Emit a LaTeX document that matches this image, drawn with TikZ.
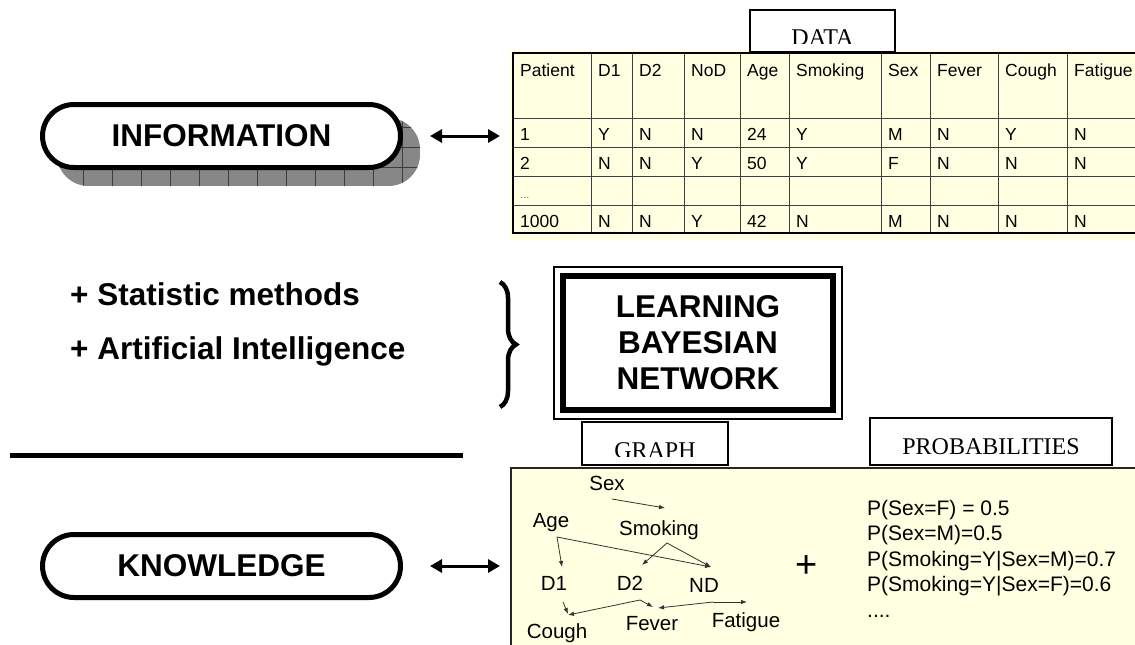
\documentclass[tikz,border=0pt]{standalone}
\usepackage{fontspec}
\setmainfont{Liberation Sans}
\newfontfamily\labelfont{Liberation Serif}
\usetikzlibrary{positioning,backgrounds,arrows.meta,decorations.pathreplacing}
\definecolor{paper}{RGB}{255,255,225}
\definecolor{shadowgray}{RGB}{135,135,135}
\definecolor{gridline}{RGB}{60,60,60}
\tikzset{
  pill/.style      = {shape=rectangle, rounded corners=31.5pt,
                      draw, line width=5pt, fill=white,
                      minimum width=358pt, minimum height=63pt, inner sep=0pt,
                      font=\bfseries\fontsize{31.5}{31.5}\selectfont},
  bullet/.style    = {anchor=base west, inner sep=0pt,
                      font=\bfseries\fontsize{31.5}{31.5}\selectfont},
  learnbox/.style  = {draw, line width=6pt, align=center,
                      minimum width=270pt, minimum height=134pt,
                      font=\bfseries\fontsize{31.5}{36}\selectfont},
  panel/.style     = {fill=paper, inner sep=0pt, anchor=north west},
  tag/.style       = {draw, line width=2pt, fill=white, inner sep=0pt},
  tagtext/.style   = {anchor=base, inner sep=0pt,
                      font=\labelfont\fontsize{24}{24}\selectfont},
  cell/.style      = {anchor=base west, inner sep=0pt,
                      font=\fontsize{17.5}{17.5}\selectfont},
  cellline/.style  = {draw=black!75, line width=1pt},
  tableborder/.style = {draw=black, line width=2.5pt},
  gnode/.style     = {anchor=base, inner sep=0pt,
                      font=\fontsize{20.5}{20.5}\selectfont},
  garrow/.style    = {-{Latex[length=6pt,width=4.5pt]}, line width=0.8pt, draw=black!80},
  dblarrow/.style  = {{Triangle[length=12pt,width=13pt]}-{Triangle[length=12pt,width=13pt]},
                      line width=3pt},
  prob/.style      = {anchor=base west, inner sep=0pt,
                      font=\fontsize{21}{21}\selectfont}
}
\begin{document}
\begin{tikzpicture}[x=1pt, y=-1pt]
    \useasboundingbox (0,0) rectangle (1135,645);

    % left column
    \node [pill] (info) at (221.5,136) {INFORMATION};
    \node [pill] (know) at (221.5,566) {KNOWLEDGE};
    \foreach \p/\ty in {info/102, know/532} {
        \begin{scope}[on background layer]
            \clip[rounded corners=31.5pt] ([shift={(17,16)}]\p.north west)
                rectangle ([shift={(17,16)}]\p.south east);
            \fill[shadowgray] ([shift={(17,16)}]\p.north west)
                rectangle ([shift={(17,16)}]\p.south east);
            \foreach \gx in {54,83,...,430}
                \draw[gridline, line width=0.6pt] (\gx,\ty) -- ++(0,90);
            \foreach \gy in {5,25,45,65,85}
                \draw[gridline, line width=0.6pt] (40,\ty+\gy) -- ++(400,0);
        \end{scope}
    }
    \node [bullet] (stat) at (70,305) {+ Statistic methods};
    \node [bullet] (ai)   at (70,359) {+ Artificial Intelligence};
    \coordinate (brace-top) at (500,282);
    \coordinate (brace-bot) at (500,407);
    \draw[decorate, decoration={brace, amplitude=16pt}, line width=4.5pt]
        (brace-top) -- (brace-bot);
    \coordinate (rule-l) at (10,455);
    \coordinate (rule-r) at (463,455);
    \draw[line width=5pt] (rule-l) -- (rule-r);

    % data table
    \node [panel, minimum width=630pt, minimum height=190pt] (datapanel) at (510,50) {};
    \foreach \x in {591,632,684,740,789,881,930,998,1067}
        \draw[cellline] (\x,53) -- (\x,233);
    \foreach \y in {118,147,176,205}
        \draw[cellline] (513,\y) -- (1140,\y);
    \draw[tableborder] (1140,53) -- (513,53) -- (513,233) -- (1140,233);
    \foreach \x/\t [count=\i] in {513/Patient,591/D1,632/D2,684/NoD,740/Age,
                                  789/Smoking,881/Sex,930/Fever,998/Cough,1067/Fatigue}
        \node [cell] (h\i) at (\x+7,76) {\t};
    \foreach \x/\a/\b/\d [count=\i] in {513/1/2/1000, 591/Y/N/N, 632/N/N/N, 684/N/Y/Y,
                                        740/24/50/42, 789/Y/Y/N, 881/M/F/M, 930/N/N/N,
                                        998/Y/N/N, 1067/N/N/N} {
        \node [cell] (ra\i) at (\x+7,140) {\a};
        \node [cell] (rb\i) at (\x+7,169) {\b};
        \node [cell] (rd\i) at (\x+7,227) {\d};
    }
    \node [cell, text=black!55, font=\fontsize{11}{11}\selectfont] (rc1) at (520,198) {...};
    \node [tag, minimum width=145pt, minimum height=42pt] (datatag) at (822.5,31) {};
    \begin{scope}
        \clip (datatag.north west) rectangle ([yshift=10pt]datatag.south east);
        \node [tagtext] (datatext) at ([yshift=8pt]datatag.south) {DATA};
    \end{scope}

    % learning box
    \node [learnbox] (learn) at (698,343) {LEARNING\\BAYESIAN\\NETWORK};
    \draw[line width=1.5pt] ([shift={(-6,-6)}]learn.north west)
        rectangle ([shift={(6,6)}]learn.south east);

    % graph and probabilities
    \node [panel, draw=black!85, line width=1.8pt, minimum width=640pt,
           minimum height=200pt] (graphpanel) at (510,467) {};
    \node [tag, minimum width=146pt, minimum height=43pt] (graphtag) at (655,443.5) {};
    \begin{scope}
        \clip (graphtag.north west) rectangle ([yshift=10pt]graphtag.south east);
        \node [tagtext] (graphtext) at ([yshift=8pt]graphtag.south) {GRAPH};
    \end{scope}
    \node [tag, minimum width=242pt, minimum height=47pt] (probtag) at (991,441.5) {};
    \node [tagtext] (probtext) at ([yshift=12pt]probtag.south) {PROBABILITIES};

    \node [gnode] (sex)     at (607,490) {Sex};
    \node [gnode] (age)     at (551,527) {Age};
    \node [gnode] (smoking) at (659,535) {Smoking};
    \node [gnode] (d1)      at (554,590) {D1};
    \node [gnode] (d2)      at (630,590) {D2};
    \node [gnode] (nd)      at (704,592) {ND};
    \node [gnode] (cough)   at (557,638) {Cough};
    \node [gnode] (fever)   at (652,630) {Fever};
    \node [gnode] (fatigue) at (746,627) {Fatigue};

    \draw[garrow] ([shift={(5,9)}]sex.base)      -- ([shift={(6,-27)}]smoking.base);
    \draw[garrow] ([shift={(6,10)}]age.base)     -- ([shift={(8,-23)}]d1.base);
    \draw[garrow] ([shift={(6,10)}]age.base)     -- ([shift={(7,-25)}]nd.base);
    \draw[garrow] ([shift={(8,8)}]smoking.base)  -- ([shift={(12,-25)}]d2.base);
    \draw[garrow] ([shift={(8,8)}]smoking.base)  -- ([shift={(7,-25)}]nd.base);
    \draw[garrow] ([shift={(9,12)}]d1.base)      -- ([shift={(11,-24)}]cough.base);
    \draw[garrow] ([shift={(10,10)}]d2.base)     -- ([shift={(11,-23)}]cough.base);
    \draw[garrow] ([shift={(10,10)}]d2.base)     -- ([shift={(1,-23)}]fever.base);
    \draw[garrow] ([shift={(9,10)}]nd.base)      -- ([shift={(6,-22)}]fever.base);
    \draw[garrow] ([shift={(9,10)}]nd.base)      -- ([shift={(1,-25)}]fatigue.base);

    \node [inner sep=0pt, font=\fontsize{38}{38}\selectfont] (plus) at (807,567) {+};

    \foreach \t [count=\i] in {P(Sex=F) = 0.5, P(Sex=M)=0.5, P(Smoking=Y|Sex=M)=0.7,
                               P(Smoking=Y|Sex=F)=0.6}
        \node [prob] (prob\i) at (867,489.5+25.5*\i) {\t};
    \node [prob] (prob5) at (867,617) {....};

    % links to the data
    \draw[dblarrow, shorten <=27pt, shorten >=10pt] (info.east) -- (info.east -| datapanel.west);
    \draw[dblarrow, shorten <=27pt, shorten >=10pt] (know.east) -- (know.east -| graphpanel.west);
\end{tikzpicture}
\end{document}
